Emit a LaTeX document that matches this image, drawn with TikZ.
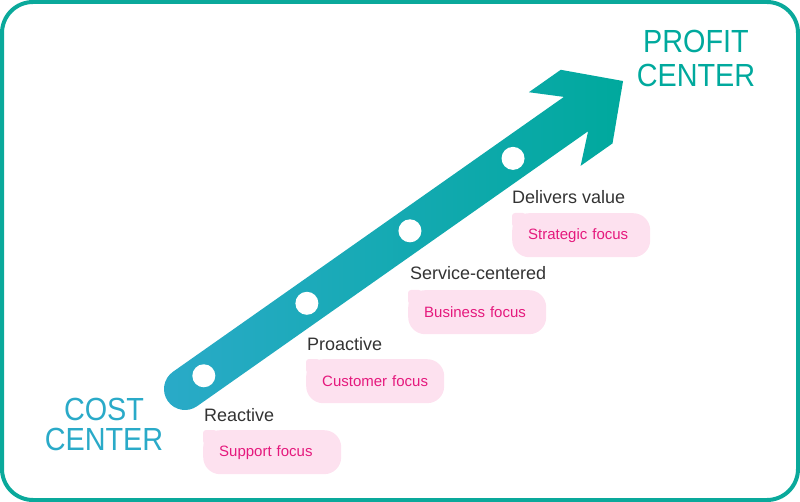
\documentclass[tikz,border=0pt]{standalone}
\usepackage{fontspec}
\setmainfont{Liberation Sans}
\newfontfamily\bigfont[FakeStretch=0.9]{Liberation Sans}
\definecolor{teal1}{HTML}{00A99D}
\definecolor{blue1}{HTML}{2AAAC8}
\definecolor{framecol}{HTML}{0AA99B}
\definecolor{pinkfill}{HTML}{FDE1EF}
\definecolor{pinktext}{HTML}{E5197D}
\definecolor{darktext}{HTML}{333333}
\begin{document}
\begin{tikzpicture}[x=1pt,y=1pt,
  bigtext/.style={font=\bigfont\fontsize{32}{32}\selectfont, inner sep=0pt, anchor=base},
  steplabel/.style={font=\fontsize{18}{18}\selectfont, text=darktext, inner sep=0pt, anchor=base west},
  focusbox/.style={fill=pinkfill, rounded corners=17pt, text=pinktext, font=\fontsize{15}{15}\selectfont, text width=106pt, inner xsep=16pt, inner ysep=0pt, minimum height=44pt, align=left, anchor=north west},
  stepdot/.style={circle, fill=white, minimum size=23pt, inner sep=0pt}
]
\useasboundingbox (0,0) rectangle (800,-502);
\draw[framecol, line width=4pt, rounded corners=31pt] (2,-2) rectangle (798,-500);

% arrow
\begin{scope}[shift={(185,-389)}, rotate=35.11]
\shade[left color=blue1, right color=teal1]
  (0,21) -- (478,21) -- (452,45) -- (491,45) -- (535.5,0) -- (491,-45) -- (452,-45) -- (478,-21) -- (0,-21)
  arc[start angle=-90, end angle=-270, radius=21] -- cycle;
\foreach \d/\n in {23/d1,149/d2,275/d3,401/d4}
  \node[stepdot] (\n) at (\d,0) {};
\end{scope}

% big labels
\node[bigtext, text=teal1] (profit1) at (696,-53) {PROFIT};
\node[bigtext, text=teal1] (profit2) at (696,-87) {CENTER};
\node[bigtext, text=blue1] (cost1) at (104,-420) {COST};
\node[bigtext, text=blue1] (cost2) at (104,-450) {CENTER};

% steps
\node[steplabel] (l1) at (204,-421.5) {Reactive};
\node[focusbox] (b1) at (203,-430) {Support focus};
\fill[pinkfill, rounded corners=3pt] (b1.north west) rectangle ++(14,-14);

\node[steplabel] (l2) at (307,-350) {Proactive};
\node[focusbox] (b2) at (306,-359) {Customer focus};
\fill[pinkfill, rounded corners=3pt] (b2.north west) rectangle ++(14,-14);

\node[steplabel] (l3) at (410,-280) {Service-centered};
\node[focusbox] (b3) at (408,-290) {Business focus};
\fill[pinkfill, rounded corners=3pt] (b3.north west) rectangle ++(14,-14);

\node[steplabel] (l4) at (512,-204) {Delivers value};
\node[focusbox] (b4) at (512,-213) {Strategic focus};
\fill[pinkfill, rounded corners=3pt] (b4.north west) rectangle ++(14,-14);
\end{tikzpicture}
\end{document}
